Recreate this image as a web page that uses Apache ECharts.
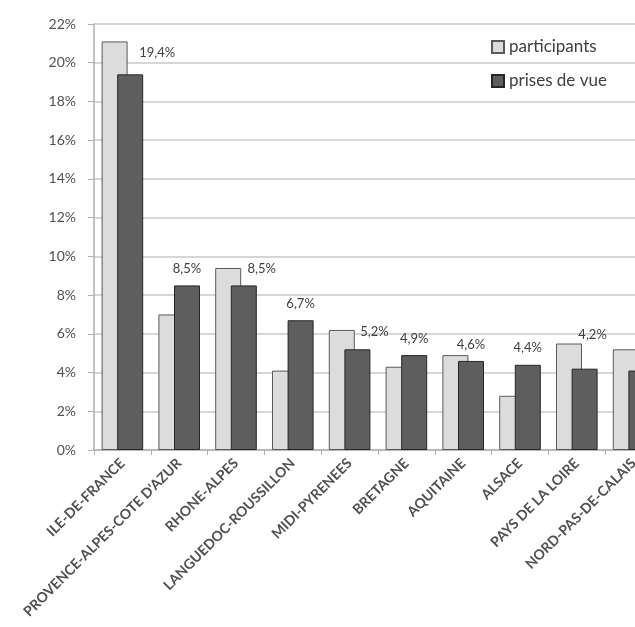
<!DOCTYPE html>
<html>
<head>
<meta charset="utf-8">
<script src="https://cdn.jsdelivr.net/npm/echarts@6/dist/echarts.min.js"></script>
<style>
html,body{margin:0;padding:0;background:#fff;overflow:hidden;width:635px;height:627px;}
#c{width:700px;height:627px;}
</style>
</head>
<body>
<div id="c"></div>
<script>
const categories = ['ILE-DE-FRANCE','PROVENCE-ALPES-COTE D\'AZUR','RHONE-ALPES','LANGUEDOC-ROUSSILLON','MIDI-PYRENEES','BRETAGNE','AQUITAINE','ALSACE','PAYS DE LA LOIRE','NORD-PAS-DE-CALAIS'];
const participants = [21.1, 7.0, 9.4, 4.1, 6.2, 4.3, 4.9, 2.8, 5.5, 5.2];
const prisesDeVue = [19.4, 8.5, 8.5, 6.7, 5.2, 4.9, 4.6, 4.4, 4.2, 4.1];
const yTicks = {min: 0, max: 22, interval: 2};

// manual label nudges (Excel-style moved labels), style only
const labelNudges = [[27,-5],[0,0],[18,0],[0,0],[17,-1],[0,0],[0,0],[0,0],[8,-17],null];

const fmt = v => v.toFixed(1).replace('.', ',') + '%';
const FONT = 'Lato, "Open Sans", sans-serif';

const darkData = prisesDeVue.map((v, i) => {
  const n = labelNudges[i];
  return {
    value: v,
    label: n ? {show: true, offset: n} : {show: false}
  };
});

const chart = echarts.init(document.getElementById('c'), null, {renderer: 'canvas'});
chart.setOption({
  animation: false,
  backgroundColor: '#ffffff',
  grid: {left: 94, right: 38, top: 24, bottom: 177, containLabel: false},
  legend: {
    orient: 'vertical',
    left: 486, top: 33,
    itemWidth: 12, itemHeight: 12, itemGap: 16,
    icon: 'rect',
    textStyle: {fontFamily: FONT, fontSize: 17, color: '#404040', lineHeight: 18},
    data: ['participants', 'prises de vue']
  },
  xAxis: {
    type: 'category',
    data: categories,
    axisLine: {lineStyle: {color: '#b0b0b0', width: 1.5}},
    axisTick: {show: true, length: 5, lineStyle: {color: '#b0b0b0'}},
    axisLabel: {
      interval: 0, rotate: 45, fontFamily: FONT, fontSize: 14, fontWeight: 'bold',
      color: '#505050', margin: 11
    }
  },
  yAxis: {
    type: 'value',
    min: yTicks.min, max: yTicks.max, interval: yTicks.interval,
    axisLine: {show: true, lineStyle: {color: '#b0b0b0', width: 1.5}},
    axisTick: {show: true, length: 6, lineStyle: {color: '#b0b0b0'}},
    splitLine: {lineStyle: {color: '#c8c8c8', width: 1.5}},
    axisLabel: {formatter: v => v + '%', fontFamily: FONT, fontSize: 14, color: '#505050', margin: 18}
  },
  series: [
    {
      name: 'participants', type: 'bar', data: participants,
      barWidth: 26, barGap: '-40%',
      itemStyle: {color: '#dcdcdc', borderColor: '#5a5a5a', borderWidth: 1}
    },
    {
      name: 'prises de vue', type: 'bar', data: darkData,
      barWidth: 26,
      itemStyle: {color: '#5e5e5e', borderColor: '#262626', borderWidth: 1},
      label: {show: true, position: 'top', distance: 10, formatter: p => fmt(p.value),
        fontFamily: FONT, fontSize: 13, color: '#404040'}
    }
  ]
});
</script>
</body>
</html>
